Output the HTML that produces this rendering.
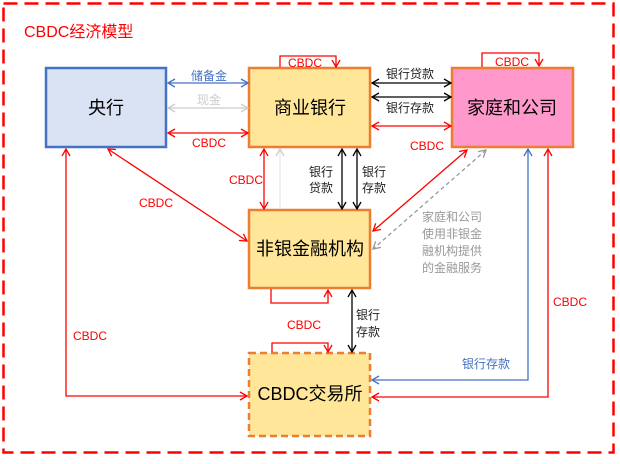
<!DOCTYPE html>
<html><head><meta charset="utf-8"><style>
body{margin:0;background:#fff}
text{font-family:"Liberation Sans","Noto Sans CJK SC",sans-serif}
</style></head><body>
<svg width="620" height="459" xmlns="http://www.w3.org/2000/svg">
<defs>
<marker id="r" markerWidth="10" markerHeight="10" refX="8" refY="5" orient="auto-start-reverse" markerUnits="userSpaceOnUse"><path d="M1,1 L8,5 L1,9" fill="none" stroke="#f00" stroke-width="1.3"/></marker>
<marker id="k" markerWidth="10" markerHeight="10" refX="8" refY="5" orient="auto-start-reverse" markerUnits="userSpaceOnUse"><path d="M1,1 L8,5 L1,9" fill="none" stroke="#000" stroke-width="1.3"/></marker>
<marker id="b" markerWidth="10" markerHeight="10" refX="8" refY="5" orient="auto-start-reverse" markerUnits="userSpaceOnUse"><path d="M1,1 L8,5 L1,9" fill="none" stroke="#4472c4" stroke-width="1.3"/></marker>
<marker id="g" markerWidth="10" markerHeight="10" refX="8" refY="5" orient="auto-start-reverse" markerUnits="userSpaceOnUse"><path d="M1,1 L8,5 L1,9" fill="none" stroke="#ccc" stroke-width="1.3"/></marker>
<marker id="d" markerWidth="10" markerHeight="10" refX="8" refY="5" orient="auto-start-reverse" markerUnits="userSpaceOnUse"><path d="M1,1 L8,5 L1,9" fill="none" stroke="#999" stroke-width="1.3"/></marker>
</defs>
<rect x="3.5" y="3.5" width="610" height="449" fill="none" stroke="#f00" stroke-width="2.5" stroke-dasharray="14,7"/>
<text x="24" y="37" font-size="16" fill="#f00">CBDC经济模型</text>

<rect x="46" y="68" width="120" height="79" fill="#dae3f3" stroke="#4472c4" stroke-width="2.5"/>
<text x="106" y="114" font-size="18" text-anchor="middle">央行</text>
<rect x="249" y="68" width="121" height="79" fill="#ffe699" stroke="#ed7d31" stroke-width="2.5"/>
<text x="310" y="114" font-size="18" text-anchor="middle">商业银行</text>
<rect x="452" y="68" width="121" height="79" fill="#ff99cc" stroke="#ed7d31" stroke-width="2.5"/>
<text x="512" y="114" font-size="18" text-anchor="middle">家庭和公司</text>
<rect x="249" y="210" width="121" height="78" fill="#ffe699" stroke="#ed7d31" stroke-width="2.5"/>
<text x="310" y="255" font-size="18" text-anchor="middle">非银金融机构</text>
<rect x="249" y="353" width="121" height="83" fill="#ffe699" stroke="#ed7d31" stroke-width="2.5" stroke-dasharray="7,4"/>
<text x="310" y="400" font-size="18" text-anchor="middle">CBDC交易所</text>

<!-- central bank - commercial -->
<line x1="168" y1="83" x2="248" y2="83" stroke="#4472c4" stroke-width="1.3" marker-start="url(#b)" marker-end="url(#b)"/>
<text x="209" y="80" font-size="12" fill="#4472c4" text-anchor="middle">储备金</text>
<line x1="168" y1="108" x2="248" y2="108" stroke="#ccc" stroke-width="1.3" marker-start="url(#g)" marker-end="url(#g)"/>
<text x="209" y="104" font-size="12" fill="#ccc" text-anchor="middle">现金</text>
<line x1="168" y1="133" x2="248" y2="133" stroke="#f00" stroke-width="1.3" marker-start="url(#r)" marker-end="url(#r)"/>
<text x="209" y="147" font-size="12" fill="#f00" text-anchor="middle">CBDC</text>

<!-- self loops -->
<polyline points="280,67 280,56 336,56 336,67" fill="none" stroke="#f00" stroke-width="1.3" marker-end="url(#r)"/>
<text x="305" y="67" font-size="12" fill="#f00" text-anchor="middle">CBDC</text>
<polyline points="482,67 482,53 539,53 539,66" fill="none" stroke="#f00" stroke-width="1.3" marker-end="url(#r)"/>
<text x="512" y="66" font-size="12" fill="#f00" text-anchor="middle">CBDC</text>

<!-- commercial - household -->
<line x1="372" y1="83" x2="451" y2="83" stroke="#000" stroke-width="1.3" marker-start="url(#k)" marker-end="url(#k)"/>
<text x="410" y="78" font-size="12" text-anchor="middle" fill="#222">银行贷款</text>
<line x1="372" y1="97" x2="451" y2="97" stroke="#000" stroke-width="1.3" marker-start="url(#k)" marker-end="url(#k)"/>
<text x="410" y="112" font-size="12" text-anchor="middle" fill="#222">银行存款</text>
<line x1="372" y1="126" x2="451" y2="126" stroke="#f00" stroke-width="1.3" marker-start="url(#r)" marker-end="url(#r)"/>
<text x="427" y="150" font-size="12" fill="#f00" text-anchor="middle">CBDC</text>

<!-- commercial - nonbank -->
<line x1="264" y1="149" x2="264" y2="209" stroke="#f00" stroke-width="1.3" marker-start="url(#r)" marker-end="url(#r)"/>
<line x1="280" y1="149" x2="280" y2="209" stroke="#e8e8e8" stroke-width="1.3" marker-start="url(#g)"/>
<text x="246" y="184" font-size="12" fill="#f00" text-anchor="middle">CBDC</text>
<line x1="342" y1="149" x2="342" y2="209" stroke="#000" stroke-width="1.3" marker-start="url(#k)" marker-end="url(#k)"/>
<line x1="357" y1="149" x2="357" y2="209" stroke="#000" stroke-width="1.3" marker-start="url(#k)" marker-end="url(#k)"/>
<text x="321" y="176" font-size="12" text-anchor="middle" fill="#222">银行</text>
<text x="321" y="192" font-size="12" text-anchor="middle" fill="#222">贷款</text>
<text x="374" y="176" font-size="12" text-anchor="middle" fill="#222">银行</text>
<text x="374" y="192" font-size="12" text-anchor="middle" fill="#222">存款</text>

<!-- central bank - nonbank -->
<line x1="108" y1="149" x2="247" y2="241" stroke="#f00" stroke-width="1.3" marker-start="url(#r)" marker-end="url(#r)"/>
<text x="156" y="207" font-size="12" fill="#f00" text-anchor="middle">CBDC</text>

<!-- household - nonbank -->
<line x1="467" y1="150" x2="373" y2="231" stroke="#f00" stroke-width="1.3" marker-start="url(#r)" marker-end="url(#r)"/>
<line x1="486" y1="150" x2="373" y2="249" stroke="#999" stroke-width="1.3" stroke-dasharray="4,3" marker-start="url(#d)" marker-end="url(#d)"/>
<g font-size="12" fill="#999">
<text x="422" y="221">家庭和公司</text>
<text x="422" y="238">使用非银金</text>
<text x="422" y="255">融机构提供</text>
<text x="422" y="272">的金融服务</text>
</g>

<!-- nonbank loops -->
<polyline points="271,289 271,303 328,303 328,290" fill="none" stroke="#f00" stroke-width="1.3" marker-end="url(#r)"/>
<text x="304" y="329" font-size="12" fill="#f00" text-anchor="middle">CBDC</text>
<polyline points="272,352 272,343 328,343 328,352" fill="none" stroke="#f00" stroke-width="1.3" marker-end="url(#r)"/>
<line x1="352" y1="290" x2="352" y2="352" stroke="#000" stroke-width="1.3" marker-start="url(#k)" marker-end="url(#k)"/>
<text x="368" y="319" font-size="12" text-anchor="middle" fill="#222">银行</text>
<text x="368" y="336" font-size="12" text-anchor="middle" fill="#222">存款</text>

<!-- left -->
<polyline points="66,149 66,396 247,396" fill="none" stroke="#f00" stroke-width="1.3" marker-start="url(#r)" marker-end="url(#r)"/>
<text x="90" y="340" font-size="12" fill="#f00" text-anchor="middle">CBDC</text>
<!-- right -->
<polyline points="528,149 528,380 372,380" fill="none" stroke="#4472c4" stroke-width="1.3" marker-start="url(#b)" marker-end="url(#b)"/>
<text x="486" y="368" font-size="12" fill="#4472c4" text-anchor="middle">银行存款</text>
<polyline points="548,149 548,397 372,397" fill="none" stroke="#f00" stroke-width="1.3" marker-start="url(#r)" marker-end="url(#r)"/>
<text x="570" y="306" font-size="12" fill="#f00" text-anchor="middle">CBDC</text>
</svg>
</body></html>
